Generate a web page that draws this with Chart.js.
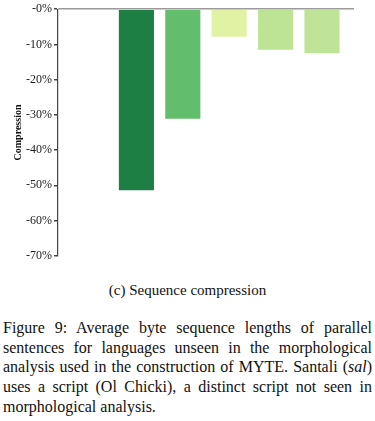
<!DOCTYPE html>
<html>
<head>
<meta charset="utf-8">
<script src="https://cdn.jsdelivr.net/npm/chart.js@4/dist/chart.umd.min.js"></script>
<style>
    body { margin: 0; background: #fff; width: 375px; height: 421px; overflow: hidden; position: relative; font-family: 'Liberation Serif', 'Times New Roman', serif; color: #111; }
    .chart-box { position: absolute; left: 0; top: 0; width: 375px; height: 265px; }
    .subcaption { position: absolute; left: 0; width: 375px; top: 282px; text-align: center; font-size: 15px; }
    .caption { position: absolute; left: 3px; width: 369px; top: 318px; font-size: 16px; line-height: 19.7px; text-align: justify; }
</style>
</head>
<body>
<div class="chart-box"><canvas id="compChart"></canvas></div>
<div class="subcaption">(c) Sequence compression</div>
<div class="caption">Figure 9: Average byte sequence lengths of parallel sentences for languages unseen in the morphological analysis used in the construction of MYTE. Santali (<i>sal</i>) uses a script (Ol Chicki), a distinct script not seen in morphological analysis.</div>
<script>
// bar slots (first slot is empty), compression in %
const positions = [0, 1, 2, 3, 4, 5];
const compression = [0, -51.7, -31.4, -8.1, -11.8, -12.8];
const barColors = ['#1e7f45', '#1e7f45', '#62bd6d', '#e1f2a5', '#bde395', '#bfe497'];
const yTicks = [0, -10, -20, -30, -40, -50, -60, -70];

const ctx = document.getElementById('compChart');

new Chart(ctx, {
    type: 'bar',
    data: {
        datasets: [{
            label: 'Compression',
            data: positions.map((x, i) => ({ x, y: compression[i] })),
            backgroundColor: barColors,
            borderColor: 'rgba(255,255,255,0.25)',
            borderWidth: 1,
            barPercentage: 0.8,
            categoryPercentage: 1.0
        }]
    },
    options: {
        responsive: true,
        maintainAspectRatio: false,
        animation: false,
        layout: { padding: { top: 9, right: 21, bottom: 7, left: 0 } },
        plugins: {
            legend: { display: false },
            tooltip: { enabled: false }
        },
        scales: {
            x: {
                type: 'linear',
                min: -0.69,
                max: 5.69,
                offset: false,
                display: false
            },
            y: {
                min: -70,
                max: 0,
                afterFit: (scale) => { scale.width = 58; },
                afterBuildTicks: (scale) => { scale.ticks = yTicks.map(v => ({ value: v })); },
                border: { display: true, color: '#444', width: 1.2 },
                grid: {
                    color: (c) => c.tick && c.tick.value === 0 ? '#9a9a9a' : 'rgba(0,0,0,0)',
                    lineWidth: 1.5,
                    tickColor: '#444',
                    tickLength: 4,
                    drawTicks: true
                },
                ticks: {
                    color: '#222',
                    padding: 2,
                    font: { family: "'Liberation Serif'", size: 12 },
                    callback: (v) => '-' + Math.abs(v) + '%'
                },
                title: {
                    display: true,
                    text: 'Compression',
                    color: '#111',
                    padding: { top: 12, bottom: 0 },
                    font: { family: "'Liberation Serif'", size: 10, weight: 'bold' }
                }
            }
        }
    }
});
</script>
</body>
</html>
